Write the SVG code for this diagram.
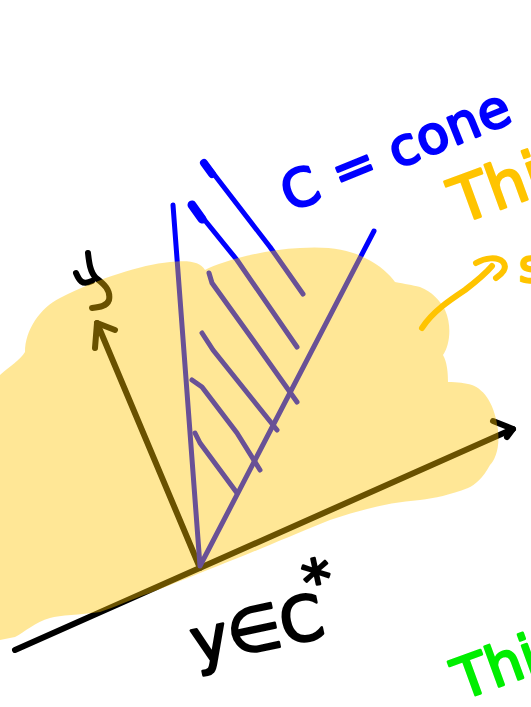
<svg xmlns="http://www.w3.org/2000/svg" width="531" height="707" viewBox="0 0 531 707">
<defs>
<style>
.ink{fill:none;stroke-linecap:round;stroke-linejoin:round}
.blk{stroke:#000;stroke-width:6}
.blu{stroke:#0000ff;stroke-width:5}
.yel{stroke:#ffc400;stroke-width:6}
.hand{font-family:"DejaVu Sans","Liberation Sans",sans-serif;stroke-linejoin:round}
</style>
</defs>
<rect width="531" height="707" fill="#fff"/>
<g id="connectors">
<g id="x-axis">
<path class="ink blk" d="M15,650 L513,429"/>
<path class="ink blk" d="M493,421 L513,429 L507,437"/>
</g>
<g id="y-axis">
<path class="ink blk" d="M200,568 L97,323"/>
<path class="ink blk" d="M95,348 L97,323 L115,330"/>
</g>
</g>
<g id="y-label">
<path class="ink blk" d="M76,273 C79,280 82,286 92,281"/>
<path class="ink blk" d="M88,253 C89,262 90,272 96,278 C104,284 111,290 109,300 C107,306 100,307 92,308"/>
</g>
<g id="cone">
<path class="ink blu" d="M173,205 L200,566 L374,231"/>
<path class="ink blu" d="M205,163 L213,173 L270,247 L303,294"/>
<path class="ink blu" d="M193,205 L203,218 L237,260 L297,347"/>
<path class="ink blu" d="M209,273 L212,283 L253,340 L297,402"/>
<path class="ink blu" d="M202,333 L213,350 L253,400 L277,430"/>
<path class="ink blu" d="M192,380 L202,387 L237,433 L260,470"/>
<path class="ink blu" d="M195,433 L200,443 L220,470 L237,493"/>
<path class="ink" stroke="#0000ff" stroke-width="8" d="M204,163 L212,174"/>
<path class="ink" stroke="#0000ff" stroke-width="9" d="M192,205 L202,219"/>
</g>
<g id="blob">
<path fill="#ffc400" fill-opacity="0.41" d="M0,375 C10,366 20,360 25,352 C25,330 40,308 60,298 C100,278 140,265 170,262 C190,260 200,262 205,270 C220,262 260,250 300,248 C330,246 350,250 365,258 C380,265 390,275 395,282 C405,284 412,285 420,287 C432,292 440,300 445,310 C452,325 450,345 443,355 C447,362 448,372 448,382 C458,382 465,383 472,385 C485,390 495,405 498,430 C500,448 495,460 490,465 C483,478 475,485 468,488 C450,495 435,498 420,500 C390,502 360,510 330,520 C300,532 270,545 250,553 C230,561 215,567 200,573 C180,581 165,587 150,593 C130,600 115,607 100,612 C80,615 60,615 50,618 C35,622 25,632 15,637 L0,640 Z"/>
</g>
<g id="yellow-arrow">
<path class="ink yel" d="M422,328 C432,312 450,300 465,290 C478,280 486,273 492,266"/>
<path class="ink yel" d="M476,263 C485,258 497,256 503,262 C508,268 502,274 496,278"/>
</g>
<g id="label-cone">
<text class="hand" x="290" y="212" transform="rotate(-22 290 212)" font-size="52" fill="#0000ff" stroke="#0000ff" stroke-width="2.5" textLength="242" lengthAdjust="spacing">C = cone</text>
</g>
<g id="label-dual">
<text class="hand" x="196" y="664" transform="rotate(-12 196 664)" font-size="62" fill="#000" stroke="#000" stroke-width="2.5">y∈C<tspan dx="-12" dy="-36" font-size="58">*</tspan></text>
</g>
<g id="label-yellow">
<text class="hand" x="460" y="224" transform="rotate(-20 460 224)" font-size="62" fill="#ffc400" stroke="#ffc400" stroke-width="2.5">Thi</text>
<text class="hand" x="519" y="282" font-size="46" fill="#ffc400" stroke="#ffc400" stroke-width="2.5">s</text>
</g>
<g id="label-green">
<text class="hand" x="462" y="700" transform="rotate(-20 462 700)" font-size="56" fill="#00ee00" stroke="#00ee00" stroke-width="2.5">Thi</text>
</g>
</svg>
